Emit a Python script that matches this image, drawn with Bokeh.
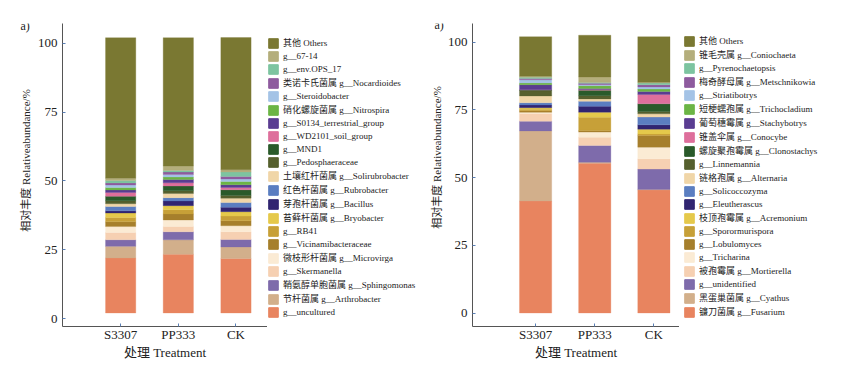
import math
from bokeh.plotting import figure
from bokeh.models import Range1d, FixedTicker, Legend, LegendItem, Label
from bokeh.layouts import row
from bokeh.embed import file_html
from bokeh.resources import INLINE

# ---------------- data ----------------
treatments = ["S3307", "PP333", "CK"]

# stacking order: bottom -> top
colors = ["#e8845f", "#d2af8b", "#7e6bab", "#f6d0b2", "#fbebd4", "#a67f2c",
          "#c7a038", "#e5c94b", "#312571", "#5b7ec1", "#f0d6a8", "#56602e",
          "#2a5a2a", "#de6f9c", "#5a3d92", "#6cb545", "#a4c3e6", "#8e5b9e",
          "#7dc4a0", "#b4ae7c", "#7a7832"]

bac_labels = ["g__uncultured", "节杆菌属 g__Arthrobacter", "鞘氨醇单胞菌属 g__Sphingomonas",
              "g__Skermanella", "微枝形杆菌属 g__Microvirga", "g__Vicinamibacteraceae",
              "g__RB41", "苔藓杆菌属 g__Bryobacter", "芽孢杆菌属 g__Bacillus",
              "红色杆菌属 g__Rubrobacter", "土壤红杆菌属 g__Solirubrobacter",
              "g__Pedosphaeraceae", "g__MND1", "g__WD2101_soil_group",
              "g__S0134_terrestrial_group", "硝化螺旋菌属 g__Nitrospira",
              "g__Steroidobacter", "类诺卡氏菌属 g__Nocardioides", "g__env.OPS_17",
              "g__67-14", "其他 Others"]
bac_S3307 = [20.0, 4.2, 2.4, 2.6, 2.2, 1.7, 1.6, 1.6, 0.8, 1.6, 1.0, 1.1, 1.6, 1.4,
             0.9, 0.85, 0.95, 0.75, 0.85, 0.85, 51.05]
bac_PP333 = [21.3, 5.3, 2.9, 1.9, 2.4, 2.2, 1.5, 1.5, 1.7, 1.2, 1.5, 1.0, 1.7, 1.2,
             1.2, 0.9, 0.9, 0.9, 0.6, 1.6, 46.6]
bac_CK = [19.8, 4.2, 2.7, 2.8, 2.2, 1.8, 1.7, 1.6, 1.6, 1.7, 1.6, 0.95, 2.1, 0.85,
          1.0, 1.2, 0.85, 0.95, 1.6, 0.85, 48.0]

fun_labels = ["镰刀菌属 g__Fusarium", "黑蛋巢菌属 g__Cyathus", "g__unidentified",
              "被孢霉属 g__Mortierella", "g__Tricharina", "g__Lobulomyces",
              "g__Sporormurispora", "枝顶孢霉属 g__Acremonium", "g__Eleutherascus",
              "g__Solicoccozyma", "链格孢属 g__Alternaria", "g__Linnemannia",
              "螺旋聚孢霉属 g__Clonostachys", "锥盖伞属 g__Conocybe",
              "葡萄穗霉属 g__Stachybotrys", "短梗蠕孢属 g__Trichocladium",
              "g__Striatibotrys", "梅奇酵母属 g__Metschnikowia", "g__Pyrenochaetopsis",
              "锥毛壳属 g__Coniochaeta", "其他 Others"]
fun_S3307 = [41.3, 25.9, 3.6, 2.85, 0.4, 0.6, 0.5, 0.6, 1.0, 0.85, 2.5, 2.0, 0.2, 0.1,
             1.85, 0.6, 1.2, 0.5, 0.4, 0.4, 14.6]
fun_PP333 = [55.3, 0.3, 6.2, 3.1, 1.85, 0.6, 4.9, 1.85, 2.2, 1.85, 0.85, 1.2, 2.0, 0.3,
             0.3, 1.1, 0.35, 0.5, 0.35, 2.0, 15.4]
fun_CK = [45.4, 0.2, 7.5, 3.8, 4.3, 4.3, 0.6, 1.75, 1.6, 2.85, 1.2, 0.85, 2.85, 3.45,
          1.1, 0.9, 0.75, 0.85, 0.6, 0.3, 16.8]

y_ticks = [0, 25, 50, 75, 100]
y_title = "相对丰度 Relativeabundance/%"
x_title = "处理 Treatment"
panel_tag = "a)"

SERIF = "Liberation Serif, Noto Sans CJK SC"
HEIGHT = 366
TOP = 23        # shared frame top (row aligns frames)
BOTTOM = 40     # shared bottom border
TXT = "#222222"


def base_fig(w, b_left, xr, yr, axes=True):
    kw = {} if axes else dict(x_axis_type=None, y_axis_type=None)
    f = figure(output_backend="svg", toolbar_location=None, title=None,
               width=w, height=HEIGHT, x_range=xr, y_range=yr,
               min_border_left=b_left, min_border_right=0,
               min_border_top=TOP, min_border_bottom=BOTTOM,
               background_fill_color="white", border_fill_color="white", **kw)
    f.outline_line_color = None
    f.grid.visible = False
    return f


def make_titles(w, tag_x, tag_y, ytitle_x, ytitle_y):
    # narrow strip holding the panel tag and the rotated y-axis title;
    # its data coordinates equal page pixels
    t = base_fig(w, 0, Range1d(0, w), Range1d(HEIGHT - BOTTOM, TOP), axes=False)
    t.add_layout(Label(x=tag_x, y=tag_y, text=panel_tag, text_align="left",
                       text_baseline="middle", text_font=SERIF,
                       text_font_size="12px", text_color=TXT))
    t.add_layout(Label(x=ytitle_x, y=ytitle_y, text=y_title, angle=math.pi / 2,
                       text_align="center", text_baseline="middle", text_font=SERIF,
                       text_font_size="11px", text_color=TXT))
    return t


def make_panel(series, base, xr, yr, bar_w, w, b_left):
    p = base_fig(w, b_left, Range1d(*xr), Range1d(*yr))

    xs = list(range(len(treatments)))
    bottoms = [base] * len(treatments)
    n = len(series[0])
    for i in range(n):
        vals = [s[i] for s in series]
        tops = [b + v for b, v in zip(bottoms, vals)]
        p.vbar(x=xs, bottom=bottoms, top=tops, width=bar_w,
               fill_color=colors[i], line_color=colors[i], line_width=0.3)
        bottoms = tops

    for ax in (p.xaxis[0], p.yaxis[0]):
        ax.axis_line_color = "#555555"
        ax.major_tick_line_color = "#5a7fb5"
        ax.major_tick_in = 3
        ax.major_tick_out = 0
        ax.minor_tick_line_color = None
        ax.major_label_text_font = SERIF
        ax.major_label_text_font_size = "13px"
        ax.major_label_text_color = TXT
        ax.axis_label_text_font = SERIF
        ax.axis_label_text_font_size = "13px"
        ax.axis_label_text_font_style = "normal"
        ax.axis_label_text_color = TXT

    p.xaxis.ticker = FixedTicker(ticks=xs)
    p.xaxis.major_label_overrides = {i: t for i, t in enumerate(treatments)}
    p.xaxis.major_label_standoff = 0
    p.xaxis.axis_label = x_title
    p.xaxis.axis_label_standoff = 0

    p.yaxis.ticker = FixedTicker(ticks=y_ticks)
    p.yaxis.major_label_standoff = 5
    return p


def make_legend(labels, w, b_left):
    q = base_fig(w, b_left, Range1d(0, 1), Range1d(0, 1), axes=False)
    keys = []
    for i in range(len(labels)):
        # zero-size legend key carrying the series colour
        keys.append(q.vbar(x=[0], bottom=[0], top=[0], width=0,
                           fill_color=colors[i], line_color=colors[i]))
    items = [LegendItem(label=labels[i], renderers=[keys[i]])
             for i in reversed(range(len(labels)))]
    leg = Legend(items=items, location=(0, 8))
    leg.margin = 0
    leg.padding = 1
    leg.spacing = 1
    leg.glyph_width = 12
    leg.glyph_height = 12
    leg.label_height = 12
    leg.label_standoff = 4
    leg.border_line_color = None
    leg.background_fill_alpha = 0
    leg.label_text_font = SERIF
    leg.label_text_font_size = "9px"
    leg.label_text_color = TXT
    q.add_layout(leg, "center")
    return q


t1 = make_titles(34, 20, 25, 25, 160)
p1 = make_panel([bac_S3307, bac_PP333, bac_CK], 2.0,
                (-1.009, 2.547), (-2.906, 107.16), 0.525, 233, 25)
l1 = make_legend(bac_labels, 159, 0)
t2 = make_titles(18, 8, 24, 10, 157)
p2 = make_panel([fun_S3307, fun_PP333, fun_CK], 0.0,
                (-1.067, 2.433), (-4.98, 106.83), 0.545, 235, 25)
l2 = make_legend(fun_labels, 167, 4)

layout = row(t1, p1, l1, t2, p2, l2)
open("out.html", "w").write(file_html(layout, INLINE))
